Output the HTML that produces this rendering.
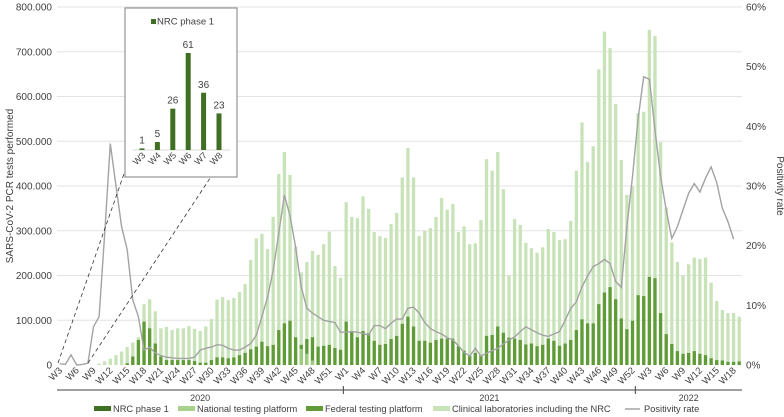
<!DOCTYPE html>
<html><head><meta charset="utf-8"><style>
html,body{margin:0;padding:0;background:#fff;}
svg{display:block;font-family:"Liberation Sans",Arial,sans-serif;}
</style></head><body>
<svg id="chart" width="784" height="417" viewBox="0 0 784 417" xmlns="http://www.w3.org/2000/svg">
<g id="grid"></g>
<g id="bars"></g>
<g id="line"></g>
<g id="axes"></g>
<g id="inset"></g>
<g id="legend"></g>
</svg>
<script>
// Data (thousands of tests / percent)
const years = ["2020","2021","2022"];
const yearStartWeek = [3,1,1];
const yearWeekCount = [51,52,19];
const clinicalTotal = [0,0,0,0,0,0,0,3,8,14,22,30,40,50,62,136,147,120,82,85,78,82,82,87,81,76,86,103,146,152,145,150,163,181,235,283,293,259,331,427,476,425,264,207,230,255,246,270,298,221,195,
364,331,328,377,349,297,288,284,315,340,419,485,419,288,300,306,331,373,347,360,297,310,270,272,324,460,434,476,393,199,326,313,273,261,251,263,304,297,279,281,322,434,542,454,489,661,745,708,583,458,380,400,
563,566,749,735,498,352,274,230,200,225,240,237,240,184,143,123,116,116,108];
const federal = [0,0,0,0,0,0,0,0,0,0,0,0,4,19,56,97,82,48,19,11,11,11,11,11,9,5,5,11,17,17,15,17,22,27,35,41,52,42,45,78,93,99,62,45,58,62,41,43,45,38,34,
97,74,62,76,71,54,45,47,58,65,92,108,86,54,54,50,56,59,59,59,42,32,21,27,22,65,67,86,72,61,59,56,46,48,42,45,59,54,43,48,56,78,102,93,93,136,162,174,147,104,80,99,
156,154,197,194,116,69,47,31,25,27,31,25,22,15,11,10,7,7,8];
const national = [0,0,0,0,0,0,0,0,0,0,0,0,0,0,0,0,0,0,0,0,0,0,0,0,0,0,0,0,0,0,0,0,0,0,0,0,0,0,0,0,0,0,0,36,25,10,0,0,0,0,0,
0,0,0,0,0,0,0,0,0,0,0,0,0,0,0,0,0,0,0,0,0,0,0,0,0,0,0,0,0,0,0,0,0,0,0,0,0,0,0,0,0,0,0,0,0,0,0,0,0,0,0,0,
0,0,0,0,0,0,0,0,0,0,0,0,0,0,0,0,0,0,0];
const positivity = [0.2,0.1,1.7,0,0.1,0.3,6.4,8.1,22,37.1,30,23.2,19.3,10.9,8.1,2.5,3,2,1.6,1.3,1.2,1.1,1.1,1.1,1.3,2.5,2.8,3,3.4,3.3,2.8,2.5,2.5,3,3.6,5,8.1,11.4,15.9,22.1,28.5,25,19.8,13.1,9.5,8.7,8.1,7.5,7.3,7.1,5.5,
5.5,5.6,5.5,5.3,5.0,6.6,6.6,6.1,7.0,7.7,7.7,9.5,9.7,8.7,7.1,6.1,5.6,5.2,4.6,4.2,3.2,2.1,1.5,2.8,1.5,2.0,2.4,2.8,3.5,4.2,4.7,5.6,6.4,5.9,5.4,5.0,4.8,5.2,5.6,7.5,9.5,10.6,13.1,14.9,16.5,17.0,17.7,17.0,14.0,13.0,23.2,31.6,
41.3,48.3,47.9,39.4,31.6,26.0,21.2,23.2,26.0,28.8,30.4,29.0,31.3,33.2,30.6,26.3,24.0,21.1,null];
const leftTicks = ["0","100.000","200.000","300.000","400.000","500.000","600.000","700.000","800.000"];
const rightTicks = ["0%","10%","20%","30%","40%","50%","60%"];
const insetWeeks = ["W3","W4","W5","W6","W7","W8"];
const insetValues = [1,5,26,61,36,23];

const NS="http://www.w3.org/2000/svg";
function mk(tag,attrs,parent,text){const e=document.createElementNS(NS,tag);for(const k in attrs)e.setAttribute(k,attrs[k]);if(text!==undefined)e.textContent=text;parent.appendChild(e);return e;}
const X0=57,X1=742,Y0=365,Y1=7;
const N=clinicalTotal.length;
const slot=(X1-X0)/N;
const xc=i=>X0+slot*(i+0.5);
const yL=v=>Y0-(v/800)*(Y0-Y1);
const yR=p=>Y0-(p/60)*(Y0-Y1);
const bw=3.3;

const grid=document.getElementById('grid');
leftTicks.forEach((t,k)=>{const y=yL(k*100);
  if(k>0){const g=mk('line',{x1:X0,x2:X1,y1:y,y2:y,stroke:'#e3e3e3','stroke-width':1},grid);
  }
});
const axes=document.getElementById('axes');
leftTicks.forEach((t,k)=>{const e=mk('text',{x:52,y:yL(k*100)+3.5,'text-anchor':'end','font-size':10,fill:'#404040'},axes,t);
  });
rightTicks.forEach((t,k)=>{const e=mk('text',{x:746,y:yR(k*10)+3.5,'font-size':10,fill:'#404040'},axes,t);
  });
let t1=mk('text',{x:0,y:0,'font-size':10,fill:'#404040','text-anchor':'middle',transform:'translate(13,186) rotate(-90)'},axes,'SARS-CoV-2 PCR tests performed');

let t2=mk('text',{x:0,y:0,'font-size':10,fill:'#404040','text-anchor':'middle',transform:'translate(777,186) rotate(90)'},axes,'Positivity rate');


const bars=document.getElementById('bars');
for(let i=0;i<N;i++){
  if(clinicalTotal[i]>0){const r=mk('rect',{x:xc(i)-bw/2,y:yL(clinicalTotal[i]),width:bw,height:Y0-yL(clinicalTotal[i]),fill:'#c9e3b9'},bars);
    }
  if(federal[i]>0){const r=mk('rect',{x:xc(i)-bw/2,y:yL(federal[i]),width:bw,height:Y0-yL(federal[i]),fill:'#5f9b36'},bars);
    }
  if(national[i]>0){const r=mk('rect',{x:xc(i)-bw/2,y:yL(national[i]),width:bw,height:Y0-yL(national[i]),fill:'#9fcc7f'},bars);
    }
}
const lg=document.getElementById('line');
let d='';positivity.forEach((p,i)=>{if(p===null)return;d+=(d?'L':'M')+xc(i).toFixed(1)+','+yR(p).toFixed(1);});
const pl=mk('path',{d:d,fill:'none',stroke:'#a3a3a3','stroke-width':1.4},lg);


// x axis labels
let idx=0;
years.forEach((yr,k)=>{
  for(let w=0;w<yearWeekCount[k];w++){
    const wk=yearStartWeek[k]+w;
    const show = (k===1) ? ((wk-1)%3===0) : (wk%3===0);
    if(show){
      const x=xc(idx);
      const e=mk('text',{x:0,y:0,'font-size':9.5,fill:'#404040','text-anchor':'end',transform:`translate(${x+3},${371}) rotate(-45)`},axes,'W'+wk);
      
    }
    idx++;
  }
});
const ax=mk('line',{x1:X0,x2:X1,y1:390,y2:390,stroke:'#404040','stroke-width':1},axes);

let start=0;
years.forEach((yr,k)=>{
  const a=X0+slot*start,b=X0+slot*(start+yearWeekCount[k]);
  if(k>0){const tk=mk('line',{x1:a,x2:a,y1:386,y2:394,stroke:'#404040'},axes);}
  const e=mk('text',{x:(a+b)/2,y:401,'font-size':9,fill:'#404040','text-anchor':'middle'},axes,yr);
  
  start+=yearWeekCount[k];
});

// inset
const ins=document.getElementById('inset');
const dl1=mk('line',{x1:58,y1:363,x2:133,y2:148,stroke:'#333','stroke-width':0.8,'stroke-dasharray':'4,3'},ins);

const dl2=mk('line',{x1:88,y1:363,x2:230,y2:148,stroke:'#333','stroke-width':0.8,'stroke-dasharray':'4,3'},ins);

const box=mk('rect',{x:125,y:8,width:112,height:169,fill:'#fff',stroke:'#7f7f7f','stroke-width':1},ins);

const ibase=150,iscale=97/61;
const ib=mk('line',{x1:133,x2:230,y1:ibase,y2:ibase,stroke:'#d9d9d9'},ins);

insetValues.forEach((v,i)=>{const x=142+i*15.4;
  const r=mk('rect',{x:x-2.5,y:ibase-v*iscale,width:5,height:v*iscale,fill:'#3f6f22'},ins);
  
  const t=mk('text',{x:x,y:ibase-v*iscale-5,'font-size':10,fill:'#404040','text-anchor':'middle'},ins,String(v));
  
  const l=mk('text',{x:0,y:0,'font-size':9,fill:'#404040','text-anchor':'end',transform:`translate(${x+4},${156}) rotate(-45)`},ins,insetWeeks[i]);
  
});
const isw=mk('rect',{x:151,y:19,width:5,height:5,fill:'#3f6f22'},ins);

const ilt=mk('text',{x:157,y:24.5,'font-size':9.5,fill:'#404040'},ins,'NRC phase 1');


// legend
const leg=document.getElementById('legend');
const items=[[94,'#3f6f22','NRC phase 1','rect'],[178,'#a9d18e','National testing platform','rect'],[306,'#5f9b36','Federal testing platform','rect'],[433,'#c9e3b9','Clinical laboratories including the NRC','rect'],[625,'#a3a3a3','Positivity rate','line']];
items.forEach(it=>{
  const g=mk('g',{},leg);
  
  if(it[3]==='rect')mk('rect',{x:it[0],y:406,width:17,height:5,fill:it[1]},g);
  else mk('line',{x1:it[0],x2:it[0]+15,y1:409,y2:409,stroke:it[1],'stroke-width':1.5},g);
  mk('text',{x:it[0]+19,y:412,'font-size':9.3,fill:'#404040'},g,it[2]);
});
</script>
</body></html>
